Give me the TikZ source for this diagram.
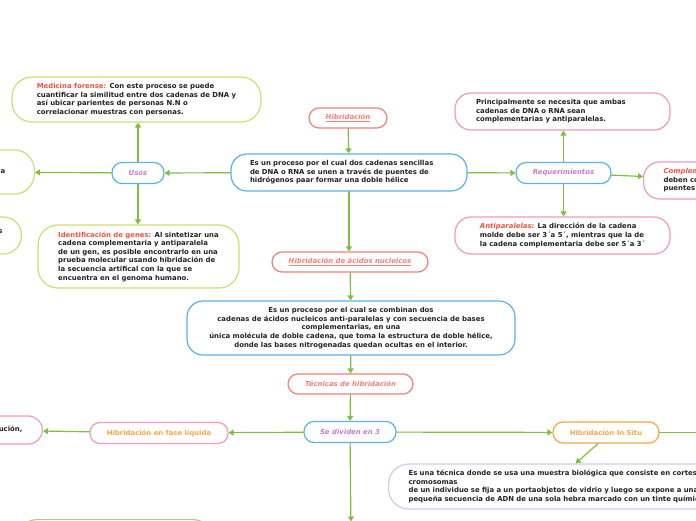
\documentclass[tikz,border=0pt]{standalone}
\usepackage{fontspec}
\setmainfont{DejaVu Sans}
\usetikzlibrary{arrows.meta}
\definecolor{linea}{RGB}{128,190,64}
\definecolor{azul}{RGB}{92,178,232}
\definecolor{salmon}{RGB}{240,128,120}
\definecolor{rojo}{RGB}{240,84,64}
\definecolor{lima}{RGB}{204,222,112}
\definecolor{rosa}{RGB}{244,152,190}
\definecolor{naranja}{RGB}{245,168,64}
\definecolor{lila}{RGB}{204,204,240}
\definecolor{morado}{RGB}{200,124,204}
\definecolor{verde}{RGB}{164,212,132}
\definecolor{texto}{RGB}{34,34,34}
\begin{document}
\begin{tikzpicture}[x=1pt, y=-1pt, line join=round, line cap=round, >={Triangle[width=6pt,length=5pt]},
		font=\fontsize{6.9}{8.6}\selectfont\bfseries,
		caja/.style={draw=#1, line width=1.2pt, rounded corners=10pt, fill=white, text=texto, inner ysep=2pt},
		titulo/.style={caja=salmon, text=salmon, font=\fontsize{6.9}{8.6}\selectfont\bfseries\itshape, minimum height=20},
		enlace/.style={caja=azul, text=morado, font=\fontsize{6.9}{8.6}\selectfont\bfseries\itshape, minimum height=21},
		tecnica/.style={caja=#1, text=naranja, minimum height=21},
		flecha/.style={draw=linea, line width=1.2pt, ->}]
		\def\etq#1{{\color{rojo}#1}}
		\def\etqi#1{{\color{rojo}\itshape#1}}
		\useasboundingbox (0,0) rectangle (696,520);
		% rama central
		\node[titulo, minimum width=78] (hib) at (348,118) {\underline{Hibridación}};
		\node[caja=azul, rounded corners=16pt, minimum height=37, inner xsep=19, text width=198, align=left] (def) at (349,172.5)
		{Es un proceso por el cual dos cadenas sencillas\\de DNA o RNA se unen a través de puentes de\\hidrógenos paar formar una doble hélice};
		\node[titulo, minimum width=156] (acidos) at (350,262) {\underline{Hibridación de ácidos nucleicos}};
		\node[caja=azul, rounded corners=16pt, minimum width=328, minimum height=54, align=center] (combina) at (351,328)
		{Es un proceso por el cual se combinan dos\\cadenas de ácidos nucleicos anti-paralelas y con secuencia de bases\\complementarias, en una\\única molécula de doble cadena, que toma la estructura de doble hélice,\\donde las bases nitrogenadas quedan ocultas en el interior.};
		\node[titulo, minimum width=125] (tecnicas) at (350.5,384) {Técnicas de hibridación};
		\node[enlace, minimum width=92] (dividen) at (350,432) {Se dividen en 3};
		\node[caja=azul, minimum width=100, minimum height=20, anchor=north] (abajo) at (351,521.5) {};
		% usos
		\node[enlace, minimum width=52] (usos) at (138,173) {Usos};
		\node[caja=lima, rounded corners=20pt, minimum width=249, minimum height=45, align=left] (forense) at (136.5,99.5)
		{\etq{Medicina forense:} Con este proceso se puede\\cuantificar la similitud entre dos cadenas de DNA y\\así ubicar parientes de personas N.N o\\correlacionar muestras con personas.};
		\node[caja=lima, rounded corners=20pt, minimum width=201, minimum height=63, align=left] (genes) at (138.5,256.5)
		{\etq{Identificación de genes:} Al sintetizar una\\cadena complementaria y antiparalela\\de un gen, es posible encontrarlo en una\\prueba molecular usando hibridación de\\la secuencia artifical con la que se\\encuentra en el genoma humano.};
		\node[caja=lima, rounded corners=20pt, anchor=east, minimum height=44, inner xsep=29, text width=62, align=right] (usoa) at (35,172) {\raisebox{-4pt}{a}};
		\node[caja=lima, rounded corners=18pt, anchor=east, minimum height=37, inner xsep=19, text width=82, align=right] (usob) at (22,235.5) {\raisebox{7pt}{s}};
		% requerimientos
		\node[enlace, minimum width=95] (req) at (563.5,173) {Requerimientos};
		\node[caja=rosa, rounded corners=16pt, minimum height=37, inner xsep=21, text width=173, align=left] (ambas) at (562.5,111.5)
		{Principalmente se necesita que ambas\\cadenas de DNA o RNA sean\\complementarias y antiparalelas.};
		\node[caja=rosa, rounded corners=16pt, minimum width=215, minimum height=37, align=left] (anti) at (562.5,235.5)
		{\etqi{Antiparalelas:} La dirección de la cadena\\molde debe ser 3´a 5´, mientras que la de\\la cadena complementaria debe ser 5´a 3´};
		\node[caja=rosa, rounded corners=16pt, anchor=west, minimum height=37, inner xsep=20, text width=140, align=left] (comp) at (643,180.5)
		{\etqi{Complementarias:} Las bases\\deben coincidir para formar\\puentes de hidrógeno.};
		% tecnicas
		\node[tecnica=rosa, minimum width=138] (liquida) at (159,433) {Hibridación en fase líquida};
		\node[caja=rosa, rounded corners=14pt, anchor=east, minimum height=28, inner xsep=20, text width=80, align=right] (solucion) at (43,430) {\raisebox{3pt}{solución,}};
		\node[tecnica=naranja, minimum width=106] (insitu) at (606,432.5) {Hibridación In Situ};
		\node[caja=lila, minimum width=100, minimum height=20, anchor=west] (otra) at (702,432.5) {};
		\node[caja=lila, rounded corners=20pt, anchor=west, minimum height=45, inner xsep=20, text width=380, align=left] (cortes) at (388,486.5)
		{Es una técnica donde se usa una muestra biológica que consiste en cortes de tejido o\\cromosomas\\de un individuo se fija a un portaobjetos de vidrio y luego se expone a una\\pequeña secuencia de ADN de una sola hebra marcado con un tinte químico.};
		\node[caja=verde, rounded corners=20pt, minimum width=196, minimum height=44, anchor=north] (fondo) at (115,519) {};
		% conectores
		\draw[flecha] (hib) -- (def);
		\draw[flecha] (def) -- (usos);
		\draw[flecha] (usos) -- (usoa);
		\draw[flecha] (usos.north) -- (usos.north |- forense.south);
		\draw[flecha] (usos.south) -- (usos.south |- genes.north);
		\draw[flecha] (def) -- (req);
		\draw[flecha] (req.north) -- (req.north |- ambas.south);
		\draw[flecha] (req.south) -- (req.south |- anti.north);
		\draw[flecha] (req) -- (comp);
		\draw[flecha] (def.south) -- (def.south |- acidos.north);
		\draw[flecha] (acidos) -- (combina);
		\draw[flecha] (combina) -- (tecnicas);
		\draw[flecha] (tecnicas) -- (dividen);
		\draw[flecha] (dividen) -- (liquida);
		\draw[flecha] (liquida) -- (solucion);
		\draw[flecha] (dividen) -- (insitu);
		\draw[flecha] (insitu) -- (otra);
		\draw[flecha] ([xshift=-8pt]insitu.south) -- ([xshift=-23pt]cortes.north);
		\draw[flecha] (dividen) -- (abajo);
\end{tikzpicture}
\end{document}
